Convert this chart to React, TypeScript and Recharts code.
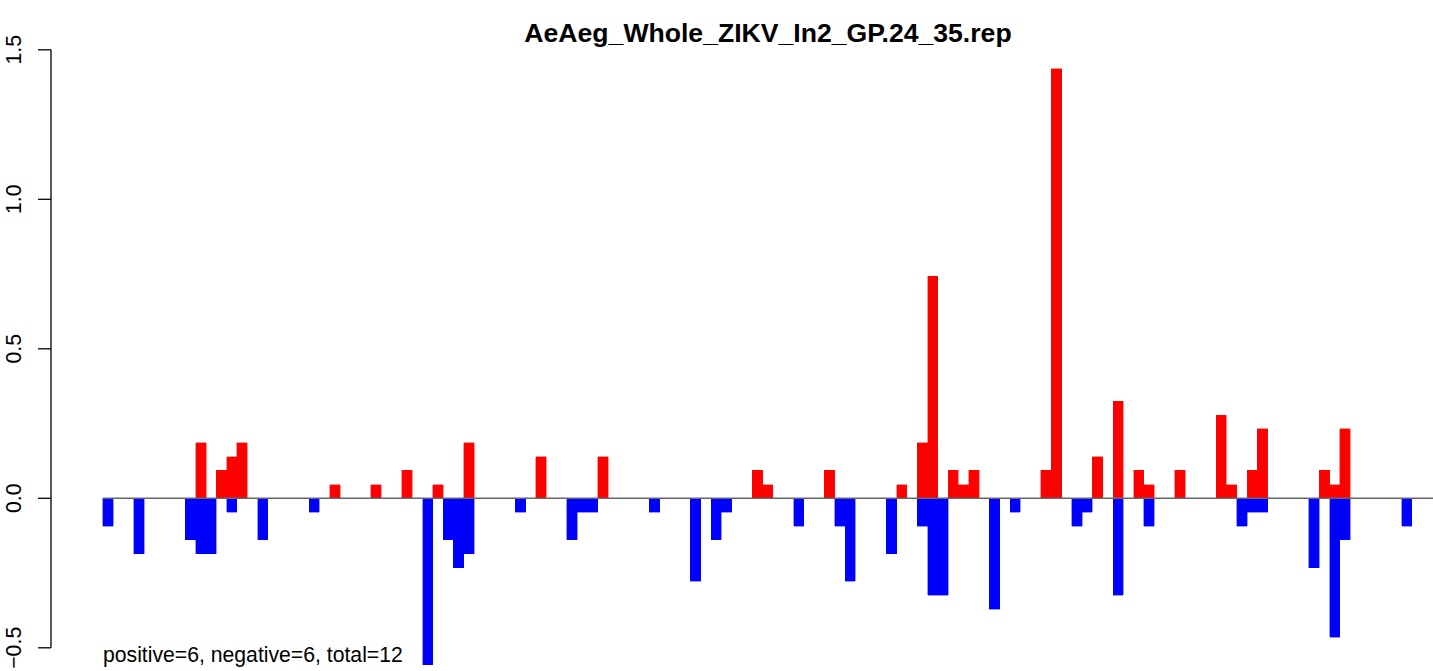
import React from 'react';
import { BarChart, Bar, XAxis, YAxis, ReferenceLine } from 'recharts';

const TITLE = 'AeAeg_Whole_ZIKV_In2_GP.24_35.rep';
const FOOTNOTE = 'positive=6, negative=6, total=12';

const yTicks = [-0.5, 0, 0.5, 1, 1.5];

// one value per bin (127 bins)
const positive = [
  0, 0, 0, 0, 0, 0, 0, 0, 0, 0.185,
  0, 0.093, 0.139, 0.185, 0, 0, 0, 0, 0, 0,
  0, 0, 0.046, 0, 0, 0, 0.046, 0, 0, 0.093,
  0, 0, 0.046, 0, 0, 0.185, 0, 0, 0, 0,
  0, 0, 0.139, 0, 0, 0, 0, 0, 0.139, 0,
  0, 0, 0, 0, 0, 0, 0, 0, 0, 0,
  0, 0, 0, 0.093, 0.046, 0, 0, 0, 0, 0,
  0.093, 0, 0, 0, 0, 0, 0, 0.046, 0, 0.185,
  0.742, 0, 0.093, 0.046, 0.093, 0, 0, 0, 0, 0,
  0, 0.093, 1.437, 0, 0, 0, 0.139, 0, 0.324, 0,
  0.093, 0.046, 0, 0, 0.093, 0, 0, 0, 0.278, 0.046,
  0, 0.093, 0.232, 0, 0, 0, 0, 0, 0.093, 0.046,
  0.232, 0, 0, 0, 0, 0, 0,
];

const negative = [
  -0.093, 0, 0, -0.185, 0, 0, 0, 0, -0.139, -0.185,
  -0.185, 0, -0.046, 0, 0, -0.139, 0, 0, 0, 0,
  -0.046, 0, 0, 0, 0, 0, 0, 0, 0, 0,
  0, -0.556, 0, -0.139, -0.232, -0.185, 0, 0, 0, 0,
  -0.046, 0, 0, 0, 0, -0.139, -0.046, -0.046, 0, 0,
  0, 0, 0, -0.046, 0, 0, 0, -0.278, 0, -0.139,
  -0.046, 0, 0, 0, 0, 0, 0, -0.093, 0, 0,
  0, -0.093, -0.278, 0, 0, 0, -0.185, 0, 0, -0.093,
  -0.324, -0.324, 0, 0, 0, 0, -0.371, 0, -0.046, 0,
  0, 0, 0, 0, -0.093, -0.046, 0, 0, -0.324, 0,
  0, -0.093, 0, 0, 0, 0, 0, 0, 0, 0,
  -0.093, -0.046, -0.046, 0, 0, 0, 0, -0.232, 0, -0.464,
  -0.139, 0, 0, 0, 0, 0, -0.093,
];

const bins = positive.map((_, i) => i);

const data = bins.map((b, i) => ({ bin: b, pos: positive[i], neg: negative[i] }));

const FONT = '"Liberation Sans", Arial, Helvetica, sans-serif';

const X_DOMAIN: [number, number] = [-5.545, 128.54];
const Y_DOMAIN: [number, number] = [-0.5776, 1.5796];

const YTick = (props: any) => {
  const { y, payload } = props;
  const bx = 21;
  const label = Number(payload.value).toFixed(1).replace('-', '\u2212');
  return (
    <text
      x={bx}
      y={y}
      transform={`rotate(-90 ${bx} ${y})`}
      textAnchor="middle"
      fontFamily={FONT}
      fontSize={21.3}
      fill="#000"
    >
      {label}
    </text>
  );
};

export default function App() {
  return (
    <div style={{ position: 'absolute', left: 0, top: 0, width: 1433, height: 671, background: '#fff' }}>
      <BarChart
        width={1433}
        height={671}
        data={data}
        stackOffset="sign"
        margin={{ top: 26, right: 0, bottom: 0, left: 0 }}
      >
        <XAxis dataKey="bin" type="number" domain={X_DOMAIN} allowDataOverflow hide />
        <YAxis
          type="number"
          domain={Y_DOMAIN}
          allowDataOverflow
          ticks={yTicks}
          width={51}
          axisLine={false}
          tickSize={13}
          tickLine={{ stroke: '#000', strokeWidth: 1.3 }}
          tick={<YTick />}
          interval={0}
        />
        <ReferenceLine
          segment={[{ x: -0.5, y: 0 }, { x: X_DOMAIN[1], y: 0 }]}
          stroke="#666666"
          strokeWidth={1.5}
          ifOverflow="visible"
        />
        <ReferenceLine
          segment={[{ x: X_DOMAIN[0], y: -0.5 }, { x: X_DOMAIN[0], y: 1.5 }]}
          stroke="#000"
          strokeWidth={1.3}
          ifOverflow="visible"
        />
        <Bar
          dataKey="pos"
          stackId="s"
          fill="#FF0000"
          stroke="#FF0000"
          strokeWidth={0.4}
          shapeRendering="crispEdges"
          barSize={10.3}
          isAnimationActive={false}
        />
        <Bar
          dataKey="neg"
          stackId="s"
          fill="#0000FF"
          stroke="#0000FF"
          strokeWidth={0.4}
          shapeRendering="crispEdges"
          barSize={10.3}
          isAnimationActive={false}
        />
      </BarChart>
      <svg
        width={1433}
        height={671}
        style={{ position: 'absolute', left: 0, top: 0, pointerEvents: 'none' }}
      >
        <text x={768} y={42} textAnchor="middle" fontFamily={FONT} fontWeight="bold" fontSize={26.6} fill="#000">
          {TITLE}
        </text>
        <text x={103} y={662} textAnchor="start" fontFamily={FONT} fontSize={21.2} fill="#000">
          {FOOTNOTE}
        </text>
      </svg>
    </div>
  );
}
